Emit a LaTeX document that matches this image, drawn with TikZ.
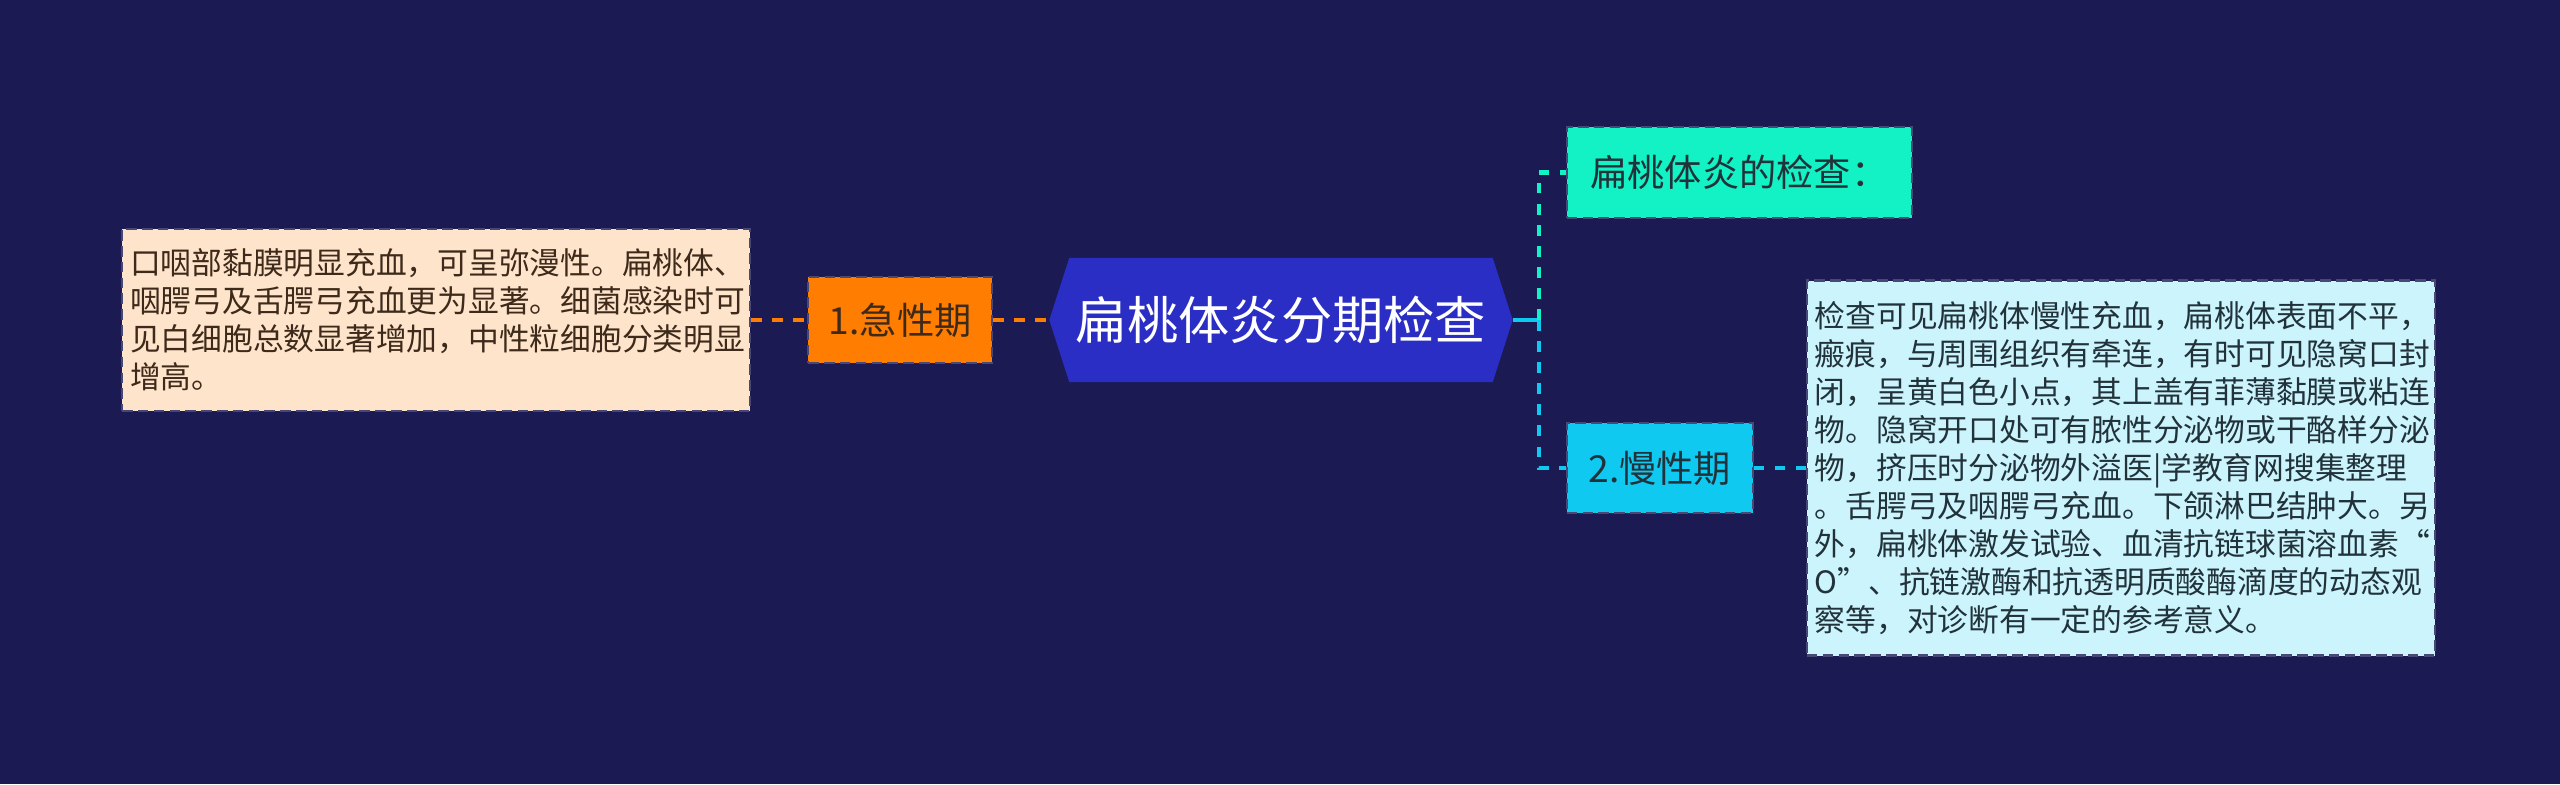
\documentclass[tikz,border=0pt]{standalone}
\usepackage{fontspec}
\setmainfont{Noto Sans CJK SC}
\usepackage{tikz}
\usetikzlibrary{positioning, backgrounds}
\definecolor{mapnavy}{HTML}{1B1A52}
\definecolor{maproot}{HTML}{2A2EC4}
\definecolor{maporange}{HTML}{FF7D00}
\definecolor{mapmint}{HTML}{12F2C5}
\definecolor{mapcyan}{HTML}{0FC9F0}
\definecolor{mappeach}{HTML}{FFE4CC}
\definecolor{mapice}{HTML}{CCF4FC}
\definecolor{mapbrown}{HTML}{3D2A1A}
\definecolor{mapink}{HTML}{22323A}

\begin{document}
\begin{tikzpicture}[
  every node/.style={inner sep=0pt},
  root/.style={minimum width=4.62cm, minimum height=1.23cm, text=white,
               font=\fontsize{14.6pt}{17pt}\selectfont},
  topic/.style={draw=mapnavy!80, dash pattern=on 3pt off 1.5pt, line width=0.6pt,
                minimum height=0.9cm, text=mapink,
                font=\fontsize{10.6pt}{12pt}\selectfont},
  note/.style={draw=mapnavy!80, dash pattern=on 3pt off 1.5pt, line width=0.6pt,
               text width=6.12cm, inner xsep=0.08cm, align=left, text=mapink,
               font=\fontsize{8.75pt}{10.8pt}\selectfont},
  link/.style={line width=1.2pt, dash pattern=on 3pt off 3pt}
]

% Centre
\node[root] (root) at (12.81,4.64) {扁桃体炎分期检查};

% Left branch
\node[topic, fill=maporange, text=mapbrown, minimum width=1.84cm, minimum height=0.86cm,
      left=0.56cm of root] (acute) {1.急性期};
\node[note, fill=mappeach, text=mapbrown, minimum height=1.82cm, left=0.56cm of acute] (acutenote) {
  口咽部黏膜明显充血，可呈弥漫性。扁桃体、\\
  咽腭弓及舌腭弓充血更为显著。细菌感染时可\\
  见白细胞总数显著增加，中性粒细胞分类明显\\
  增高。
};

% Right branch
\node[topic, fill=mapmint, minimum width=3.45cm, minimum height=0.91cm,
      right=0.53cm of root, yshift=1.475cm] (exam) {扁桃体炎的检查：};
\node[topic, fill=mapcyan, minimum width=1.86cm,
      right=0.53cm of root, yshift=-1.48cm] (chronic) {2.慢性期};
\node[note, fill=mapice, minimum height=3.75cm, right=0.52cm of chronic] (chronicnote) {
  检查可见扁桃体慢性充血，扁桃体表面不平，\\
  瘢痕，与周围组织有牵连，有时可见隐窝口封\\
  闭，呈黄白色小点，其上盖有菲薄黏膜或粘连\\
  物。隐窝开口处可有脓性分泌物或干酪样分泌\\
  物，挤压时分泌物外溢医|学教育网搜集整理\\
  。舌腭弓及咽腭弓充血。下颌淋巴结肿大。另\\
  外，扁桃体激发试验、血清抗链球菌溶血素“\\
  O”、抗链激酶和抗透明质酸酶滴度的动态观\\
  察等，对诊断有一定的参考意义。
};
\coordinate[right=0.26cm of root] (fork);

% Connections
\draw[link, maporange] (acutenote) -- (acute);
\draw[link, maporange] (acute) -- (root);
\draw[line width=1.2pt, mapcyan] (root) -- (fork);
\draw[link, mapmint] (fork) |- (exam);
\draw[link, mapcyan] (fork) |- (chronic);
\draw[link, mapcyan] (chronic) -- (chronicnote);

% Backdrop and hexagon
\begin{scope}[on background layer]
  \fill[mapnavy] (0,0) rectangle (25.6,7.84);
  \fill[maproot] (root.west) -- ([xshift=0.2cm]root.north west)
    -- ([xshift=-0.2cm]root.north east) -- (root.east)
    -- ([xshift=-0.2cm]root.south east) -- ([xshift=0.2cm]root.south west) -- cycle;
\end{scope}

\end{tikzpicture}
\end{document}
